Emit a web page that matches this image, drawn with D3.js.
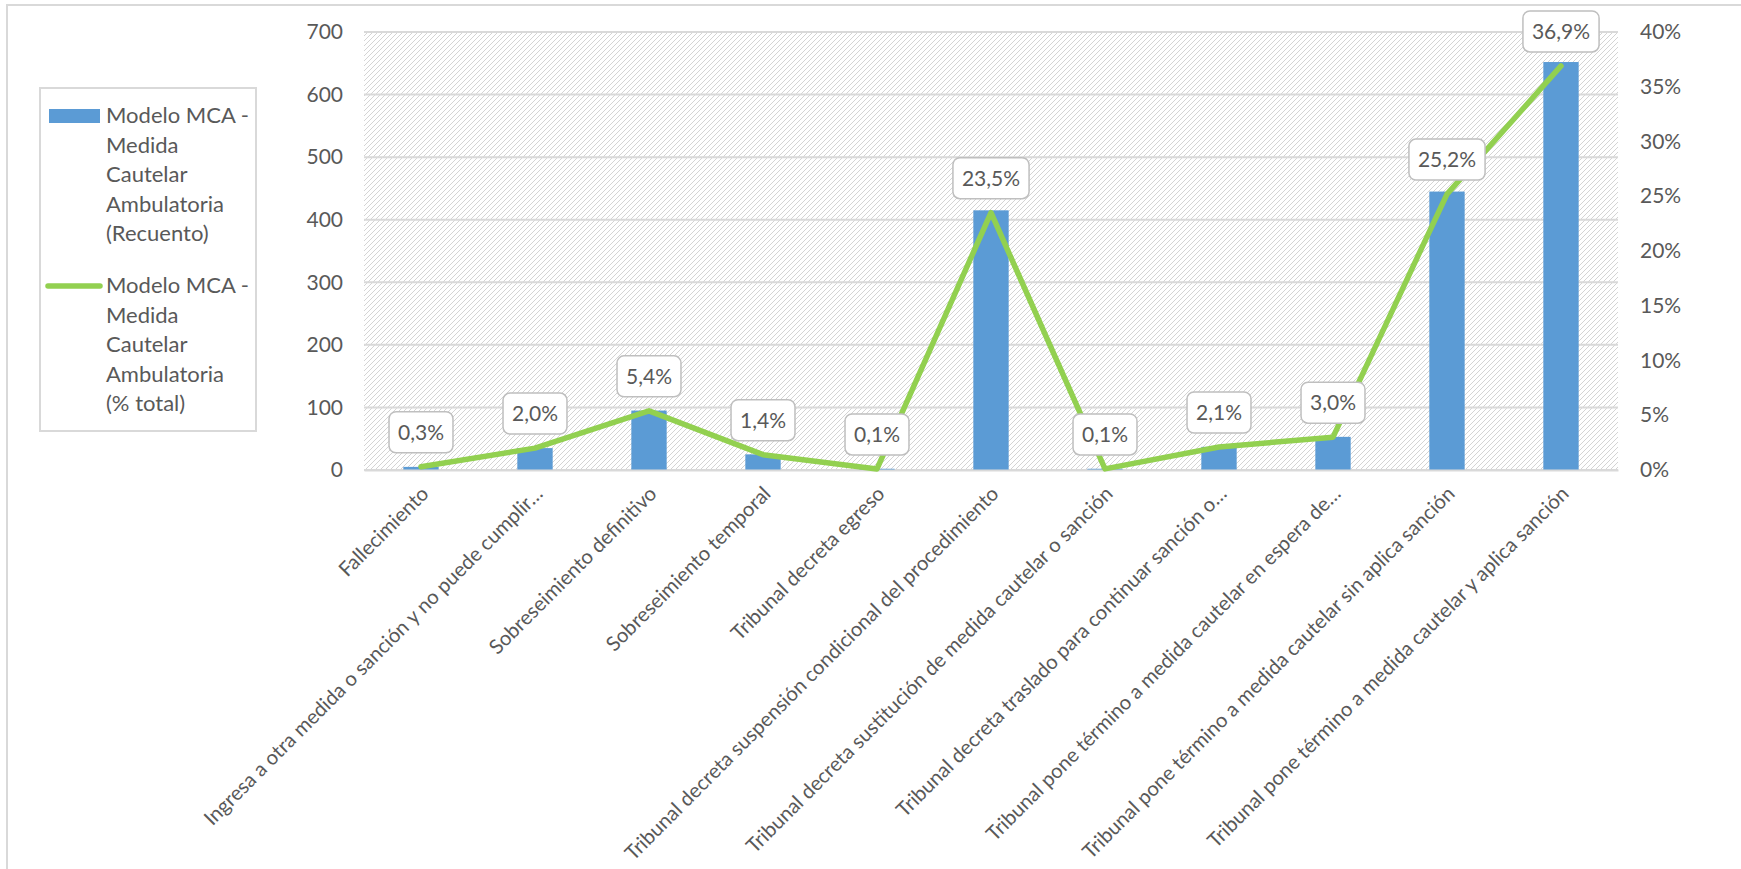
<!DOCTYPE html>
<html>
<head>
<meta charset="utf-8">
<script src="https://cdn.jsdelivr.net/npm/d3@7"></script>
<style>
  body { margin: 0; background: #fff; }
  text { font-family: Lato, "Open Sans", sans-serif; fill: #595959; }
</style>
</head>
<body>
<script>
// Data
const categories = [
    "Fallecimiento",
    "Ingresa a otra medida o sanción y no puede cumplir…",
    "Sobreseimiento definitivo",
    "Sobreseimiento temporal",
    "Tribunal decreta egreso",
    "Tribunal decreta suspensión condicional del procedimiento",
    "Tribunal decreta sustitución de medida cautelar o sanción",
    "Tribunal decreta traslado para continuar sanción o…",
    "Tribunal pone término a medida cautelar en espera de…",
    "Tribunal pone término a medida cautelar sin aplica sanción",
    "Tribunal pone término a medida cautelar y aplica sanción"
];
const counts = [5, 35, 95, 25, 2, 415, 2, 37, 53, 445, 652];
const pcts = [0.003, 0.020, 0.054, 0.014, 0.001, 0.235, 0.001, 0.021, 0.030, 0.252, 0.369];
const leftTicks = [0, 100, 200, 300, 400, 500, 600, 700];
const rightTicks = [0, 0.05, 0.10, 0.15, 0.20, 0.25, 0.30, 0.35, 0.40];
const legendBar = ["Modelo MCA -", "Medida", "Cautelar", "Ambulatoria", "(Recuento)"];
const legendLine = ["Modelo MCA -", "Medida", "Cautelar", "Ambulatoria", "(% total)"];

const width = 1741,
    height = 869;

const plot = {left: 364, right: 1618, top: 32, bottom: 470};

const blue = "#5b9bd5",
    green = "#92d050",
    gridColor = "#d9d9d9";

const locale = d3.formatLocale({decimal: ",", thousands: ".", grouping: [3], currency: ["", "€"]});
const fmtPct1 = locale.format(".1%"),
    fmtPct0 = locale.format(".0%");

const svg = d3.select("body").append("svg")
    .attr("width", width)
    .attr("height", height);

// hatch fill of the plot area
const defs = svg.append("defs");
defs.append("pattern")
    .attr("id", "hatch")
    .attr("patternUnits", "userSpaceOnUse")
    .attr("width", 5)
    .attr("height", 5)
    .append("path")
    .attr("d", "M0,5 L5,0 M-1,1 L1,-1 M4,6 L6,4")
    .attr("stroke", "#d4d4d4")
    .attr("stroke-width", 1);

// outer chart border
svg.append("rect")
    .attr("x", 7).attr("y", 5)
    .attr("width", width).attr("height", height)
    .attr("fill", "#fff")
    .attr("stroke", gridColor)
    .attr("stroke-width", 2);

const x = d3.scaleBand()
    .domain(categories)
    .range([plot.left, plot.right])
    .paddingInner(0.69)
    .paddingOuter(0.345);

const yLeft = d3.scaleLinear().domain([0, 700]).range([plot.bottom, plot.top]);
const yRight = d3.scaleLinear().domain([0, 0.4]).range([plot.bottom, plot.top]);

const cx = d => x(d) + x.bandwidth() / 2;

svg.append("rect")
    .attr("x", plot.left).attr("y", plot.top)
    .attr("width", plot.right - plot.left)
    .attr("height", plot.bottom - plot.top)
    .attr("fill", "url(#hatch)");

// gridlines
svg.append("g")
    .selectAll("line")
    .data(leftTicks)
    .join("line")
    .attr("x1", plot.left).attr("x2", plot.right)
    .attr("y1", d => yLeft(d)).attr("y2", d => yLeft(d))
    .attr("stroke", gridColor)
    .attr("stroke-width", 2);

// left axis
const leftAxis = svg.append("g")
    .attr("transform", `translate(${plot.left},0)`)
    .call(d3.axisLeft(yLeft).tickValues(leftTicks).tickSize(0).tickPadding(21));
leftAxis.select(".domain").remove();
leftAxis.selectAll("text")
    .style("font-size", "21px")
    .attr("fill", "#595959");

// right axis
const rightAxis = svg.append("g")
    .attr("transform", `translate(${plot.right},0)`)
    .call(d3.axisRight(yRight).tickValues(rightTicks).tickSize(0).tickPadding(22).tickFormat(fmtPct0));
rightAxis.select(".domain").remove();
rightAxis.selectAll("text")
    .style("font-size", "21px")
    .attr("fill", "#595959");

// bars
svg.append("g")
    .selectAll("rect")
    .data(categories)
    .join("rect")
    .attr("x", d => x(d))
    .attr("width", x.bandwidth())
    .attr("y", (d, i) => yLeft(counts[i]))
    .attr("height", (d, i) => yLeft(0) - yLeft(counts[i]))
    .attr("fill", blue);

// category labels
const xAxis = svg.append("g")
    .attr("transform", `translate(0,${plot.bottom})`)
    .call(d3.axisBottom(x).tickSize(0).tickPadding(0));
xAxis.select(".domain")
    .attr("stroke", gridColor)
    .attr("stroke-width", 2);
xAxis.selectAll("text")
    .style("font-size", "20.3px")
    .attr("fill", "#595959")
    .attr("text-anchor", "end")
    .attr("dy", null)
    .attr("y", 0)
    .attr("transform", "translate(9,25) rotate(-45)");

// line
const line = d3.line()
    .x((d, i) => cx(categories[i]))
    .y(d => yRight(d));

svg.append("path")
    .datum(pcts)
    .attr("d", line)
    .attr("fill", "none")
    .attr("stroke", green)
    .attr("stroke-width", 5.5)
    .attr("stroke-linejoin", "round")
    .attr("stroke-linecap", "round");

// data labels
const labels = svg.append("g")
    .selectAll("g")
    .data(pcts)
    .join("g")
    .attr("transform", (d, i) => `translate(${cx(categories[i])},${yRight(d) - 14})`);

labels.append("text")
    .attr("text-anchor", "middle")
    .attr("y", -13)
    .style("font-size", "21px")
    .text(d => fmtPct1(d));

labels.each(function () {
    const g = d3.select(this);
    const w = g.select("text").node().getComputedTextLength() + 18;
    g.insert("rect", "text")
        .attr("x", -w / 2)
        .attr("y", -41)
        .attr("width", w)
        .attr("height", 41)
        .attr("rx", 7)
        .attr("fill", "#fff")
        .attr("stroke", "#bfbfbf")
        .attr("stroke-width", 1.5);
});

// legend
const legend = svg.append("g");
legend.append("rect")
    .attr("x", 40).attr("y", 88)
    .attr("width", 216).attr("height", 343)
    .attr("fill", "#fff")
    .attr("stroke", gridColor)
    .attr("stroke-width", 2);

legend.append("rect")
    .attr("x", 49).attr("y", 109)
    .attr("width", 51).attr("height", 14)
    .attr("fill", blue);

legend.append("line")
    .attr("x1", 48).attr("x2", 100)
    .attr("y1", 286).attr("y2", 286)
    .attr("stroke", green)
    .attr("stroke-width", 5.5)
    .attr("stroke-linecap", "round");

legend.append("text")
    .style("font-size", "22px")
    .selectAll("tspan")
    .data(legendBar)
    .join("tspan")
    .attr("x", 106)
    .attr("y", (d, i) => 123 + i * 29.5)
    .text(d => d);

legend.append("text")
    .style("font-size", "22px")
    .selectAll("tspan")
    .data(legendLine)
    .join("tspan")
    .attr("x", 106)
    .attr("y", (d, i) => 293 + i * 29.5)
    .text(d => d);
</script>
</body>
</html>
